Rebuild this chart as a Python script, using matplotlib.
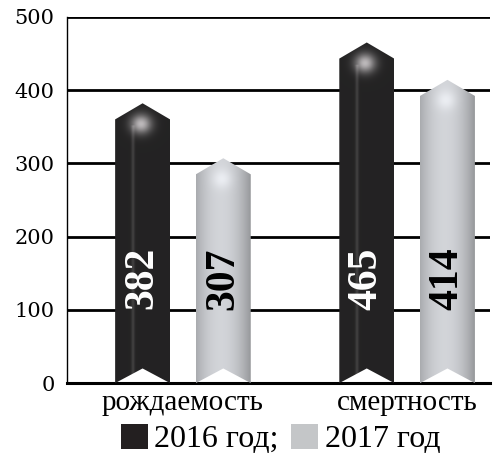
import numpy as np
import matplotlib.pyplot as plt
from matplotlib.patches import Polygon, Patch

categories = ["рождаемость", "смертность"]
series_labels = ["2016 год;", "2017 год"]
values_2016 = [382, 465]
values_2017 = [307, 414]

BLACK = "#231f20"
GREY = "#c4c6c8"
SERIF = ["Liberation Serif", "DejaVu Serif"]

plt.rcParams["font.family"] = SERIF


def arrow_shape(xc, w, h, tip=22, notch=20):
    # pointed top, notched bottom
    return [(xc - w / 2, 0), (xc, notch), (xc + w / 2, 0),
            (xc + w / 2, h - tip), (xc, h), (xc - w / 2, h - tip)]


def shading(h, dark, nx=60, ny=300):
    u = np.linspace(-1, 1, nx)[None, :]
    y = np.linspace(0, h, ny)[:, None]
    blob = np.exp(-((u + 0.05) / 0.38) ** 2 - ((y - (h - 28)) / 13.0) ** 2)
    if dark:
        base = 0.14 + 0.12 * np.exp(-((u + 0.35) / 0.06) ** 2) * (y < h - 30)
        val = base + 0.6 * blob
        rgb = np.dstack([val, val * 0.98, val * 0.99])
    else:
        base = 0.85 - 0.2 * np.abs(u + 0.1) ** 2
        val = np.clip(base + 0.1 * blob, 0, 1)
        val = val * np.ones_like(y)
        rgb = np.dstack([val * 0.97, val * 0.98, val])
    return np.clip(rgb, 0, 1)


fig = plt.figure(figsize=(4.93, 4.55), dpi=100)
ax = fig.add_axes([0.136, 0.158, 0.858, 0.805])

x = np.arange(len(categories))
offset = 0.18
width = 0.245

for vals, dx, dark in [(values_2016, -offset, True), (values_2017, offset, False)]:
    for xi, v in zip(x, vals):
        xc = xi + dx
        poly = Polygon(arrow_shape(xc, width, v), closed=True,
                       transform=ax.transData, facecolor="none", edgecolor="none")
        ax.add_patch(poly)
        im = ax.imshow(shading(v, dark), extent=(xc - width / 2, xc + width / 2, 0, v),
                       origin="lower", aspect="auto", interpolation="bilinear", zorder=3)
        im.set_clip_path(poly)
        ax.text(xc, 143, str(v), rotation=90, ha="center", va="center",
                fontsize=30, fontweight="bold", color="white" if dark else "black",
                zorder=4)

ax.set_xlim(-0.517, 1.37)
ax.set_ylim(0, 500)
ax.set_yticks(range(0, 501, 100))
ax.set_xticks(x, categories)
ax.tick_params(axis="y", length=0, pad=9)
ax.tick_params(axis="x", length=0, pad=5, labelsize=21)
for lbl in ax.get_yticklabels():
    lbl.set_family("DejaVu Serif")
    lbl.set_fontsize(15)
ax.grid(axis="y", color="black", lw=2)
ax.set_axisbelow(True)
for s in ["top", "right"]:
    ax.spines[s].set_visible(False)
ax.spines["left"].set_linewidth(1)
ax.spines["bottom"].set_linewidth(2.2)

handles = [Patch(facecolor=BLACK), Patch(facecolor=GREY)]
fig.legend(handles, series_labels, loc="center", bbox_to_anchor=(0.569, 0.035),
           ncol=2, frameon=False, fontsize=23, handlelength=0.85, handleheight=0.85,
           handletextpad=0.2, columnspacing=0.4, borderpad=0, borderaxespad=0)

fig.savefig("out.png", dpi=100)
